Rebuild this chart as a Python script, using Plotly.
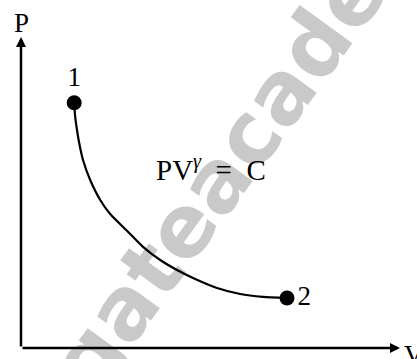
import plotly.graph_objects as go

# adiabatic curve PV^gamma = C (arbitrary units)
curve_v = [1.33, 1.35, 1.40, 1.45, 1.55, 1.73, 1.98, 2.23, 2.65, 3.05, 3.48, 3.90, 4.30, 4.90, 5.48, 6.05, 6.65]
curve_p = [6.13, 5.83, 5.45, 5.15, 4.70, 4.20, 3.70, 3.35, 2.93, 2.53, 2.20, 1.95, 1.75, 1.50, 1.35, 1.28, 1.25]

# end states
state_labels = ["1", "2"]
state_v = [1.33, 6.65]
state_p = [6.13, 1.25]

# axis extents (arrow tips)
V_AXIS_END = 9.475
P_AXIS_END = 7.775

SERIF = "Liberation Serif"
BLACK = "#000000"

fig = go.Figure()

fig.add_trace(
    go.Scatter(
        x=curve_v,
        y=curve_p,
        mode="lines",
        line=dict(color=BLACK, width=2.2, shape="spline", smoothing=0.6),
        hoverinfo="skip",
    )
)

fig.add_trace(
    go.Scatter(
        x=state_v,
        y=state_p,
        mode="markers+text",
        marker=dict(color=BLACK, size=15),
        text=state_labels,
        textposition=["top center", "middle right"],
        textfont=dict(family=SERIF, size=27, color=BLACK),
        hoverinfo="skip",
    )
)

# axes drawn as arrows from the origin
for tip_x, tip_y in [(V_AXIS_END, 0), (0, P_AXIS_END)]:
    fig.add_annotation(
        x=tip_x, y=tip_y, ax=0, ay=0,
        xref="x", yref="y", axref="x", ayref="y",
        text="", showarrow=True,
        arrowhead=2, arrowsize=0.8, arrowwidth=2.5, arrowcolor=BLACK,
    )

fig.add_annotation(
    x=0, y=8.12, text="P", showarrow=False,
    xanchor="center", yanchor="middle",
    font=dict(family=SERIF, size=27, color=BLACK),
)
fig.add_annotation(
    x=V_AXIS_END + 0.05, y=0, text="V", showarrow=False,
    xanchor="left", yanchor="top", yshift=10,
    font=dict(family=SERIF, size=27, color=BLACK),
)
fig.add_annotation(
    x=4.75, y=4.5, text="PV<sup><i>γ</i></sup>  =  C", showarrow=False,
    xanchor="center", yanchor="middle",
    font=dict(family=SERIF, size=29, color=BLACK),
)

# faint watermark behind the curve
fig.add_shape(
    type="rect", xref="paper", yref="paper",
    x0=0.604, x1=0.624, y0=0.67, y1=0.69,
    line=dict(width=0), layer="below",
    label=dict(
        text="gateacademy", textangle=-54, textposition="middle center",
        font=dict(family="DejaVu Sans", size=86, color="#c9c9c9", weight="bold"),
    ),
)

fig.update_xaxes(visible=False, range=[-0.525, 9.9], fixedrange=True)
fig.update_yaxes(visible=False, range=[-0.275, 8.7], fixedrange=True)
fig.update_layout(
    width=417,
    height=359,
    margin=dict(l=0, r=0, t=0, b=0),
    plot_bgcolor="white",
    paper_bgcolor="white",
    showlegend=False,
)

fig.write_html(
    "out.html",
    config={"displayModeBar": False},
    post_script="document.body.style.margin = '0';",
)
